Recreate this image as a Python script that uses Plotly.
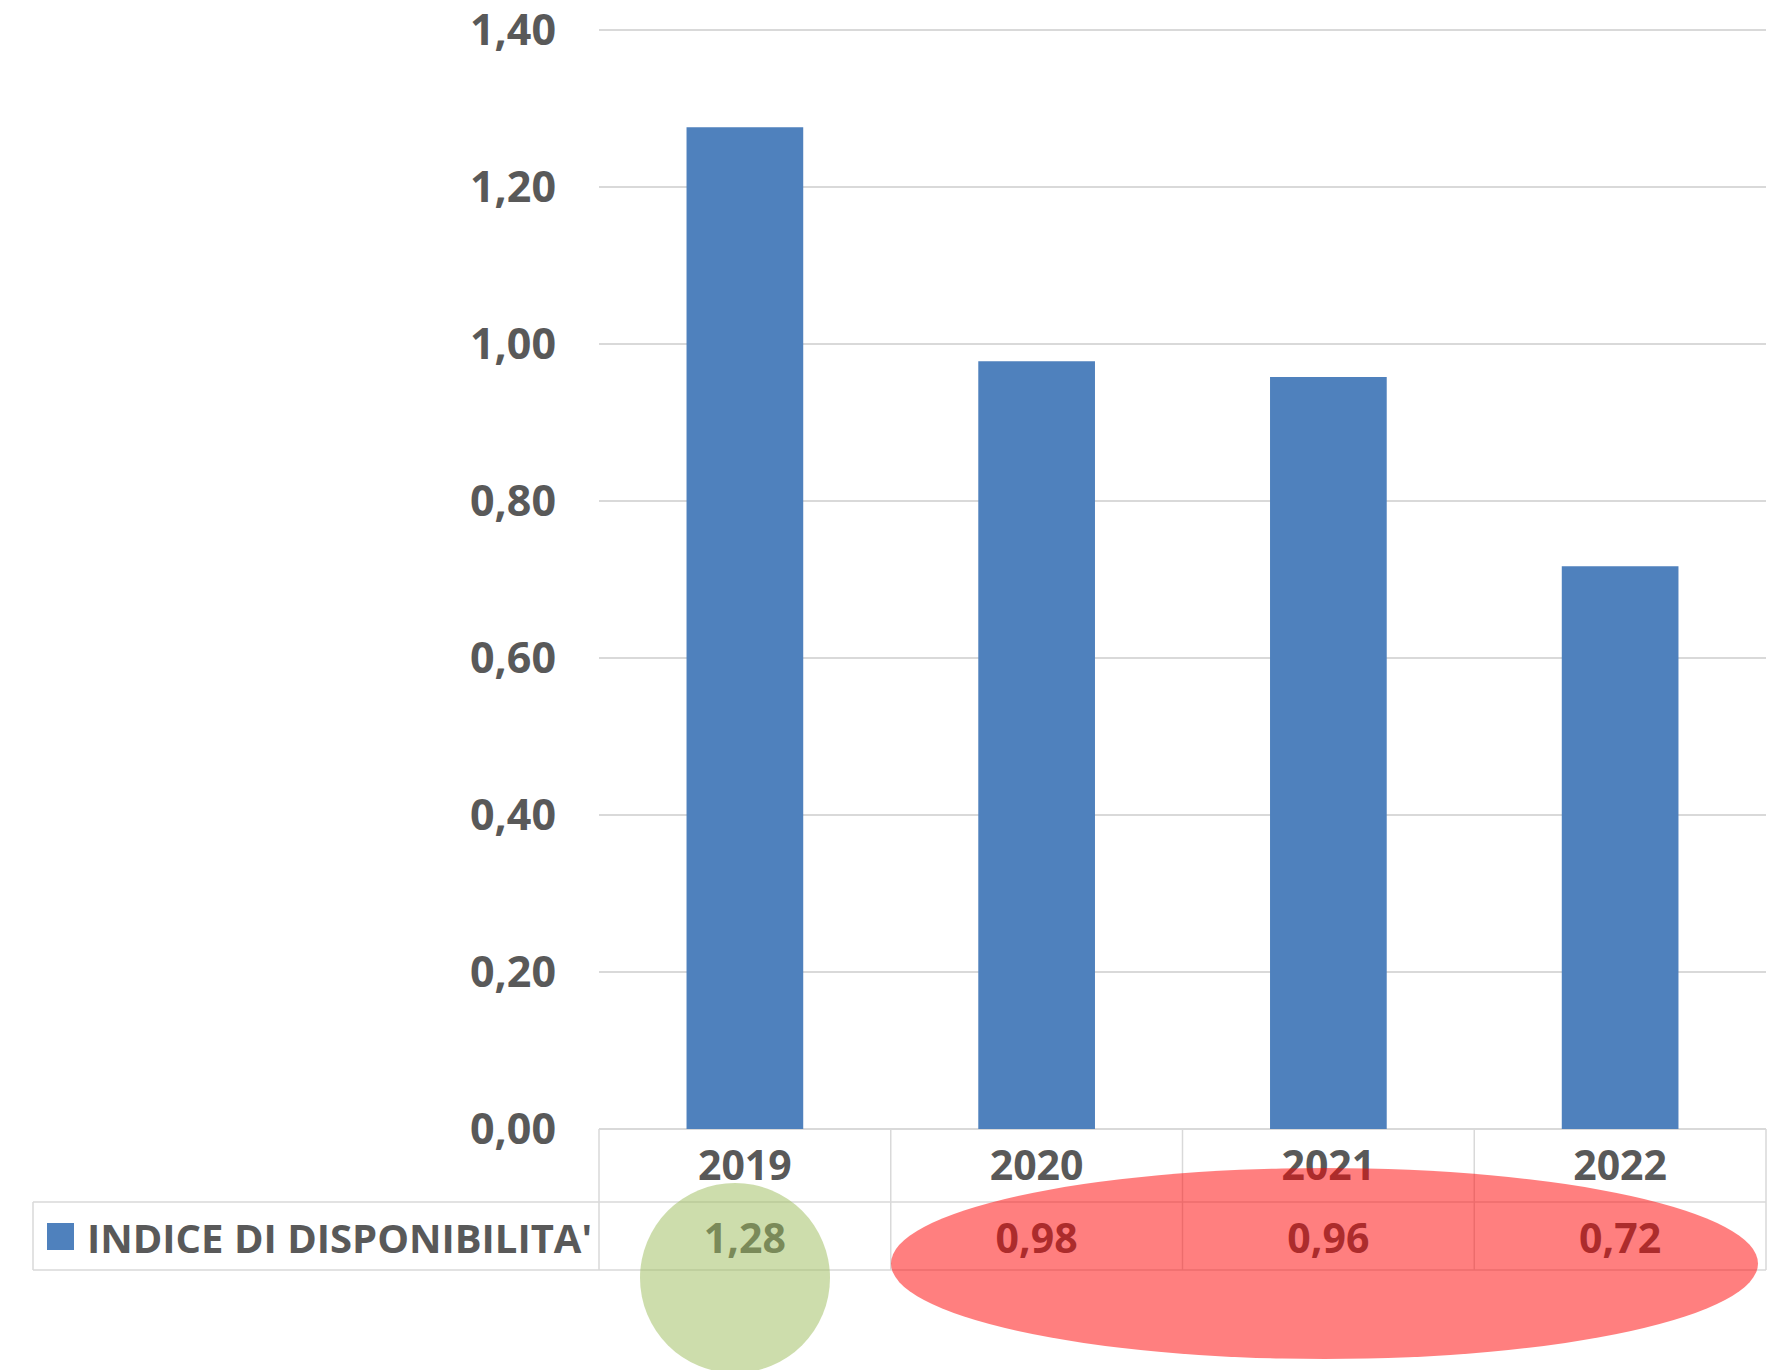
import plotly.graph_objects as go

# ---- data ----
years = ["2019", "2020", "2021", "2022"]
indice = [1.276, 0.978, 0.958, 0.717]
series_name = "INDICE DI DISPONIBILITA'"
y_ticks = [0.0, 0.2, 0.4, 0.6, 0.8, 1.0, 1.2, 1.4]

# ---- styles / layout geometry (window pixels) ----
BAR = "#4F81BD"
GRID = "#D9D9D9"
TXT = "#595959"
FONT = "Open Sans"
W, H = 1775, 1370
PLOT_LEFT, PLOT_RIGHT = 599, 1766
Y_TOP_TICK_PX, Y_ZERO_PX = 30, 1129
YTOP_TICK = 1.4
UNIT = (Y_ZERO_PX - Y_TOP_TICK_PX) / YTOP_TICK     # pixels per data unit
PLOT_TOP = Y_TOP_TICK_PX - 4
YMAX = YTOP_TICK + (Y_TOP_TICK_PX - PLOT_TOP) / UNIT
YMIN = -(H - Y_ZERO_PX) / UNIT

L = PLOT_LEFT
R = W - PLOT_RIGHT
T = PLOT_TOP
B = 0
PW, PH = W - L - R, H - T - B


def px_x(p):
    return (p - PLOT_LEFT) / PW


def px_y(p):
    return (H - p) / PH


def data_y(p):
    return (Y_ZERO_PX - p) / UNIT


def fmt(v):
    return f"{v:.2f}".replace(".", ",")


fig = go.Figure()
fig.add_trace(go.Bar(x=years, y=indice, marker_color=BAR, marker_line_width=0,
                     name=series_name, showlegend=False, hoverinfo="skip"))

# data-table rows as text traces (the highlight ellipses sit on top of them)
tfont = dict(family=FONT, size=41, color=TXT, weight="bold")
fig.add_trace(go.Scatter(x=years, y=[data_y(1170)] * len(years), mode="text",
                         text=years, textposition="middle center",
                         textfont=tfont, showlegend=False, hoverinfo="skip"))
fig.add_trace(go.Scatter(x=years, y=[data_y(1243)] * len(years), mode="text",
                         text=[fmt(v) for v in indice], textposition="middle center",
                         textfont=tfont, showlegend=False, hoverinfo="skip"))

shapes = []
line = dict(color=GRID, width=1.5)
n = len(years)
# horizontal table lines
for yy in (1202, 1270):
    shapes.append(dict(type="line", xref="paper", yref="paper", x0=px_x(33), x1=1,
                       y0=px_y(yy), y1=px_y(yy), line=line, layer="below"))
# vertical table lines
for i in range(n + 1):
    shapes.append(dict(type="line", xref="paper", yref="paper", x0=i / n, x1=i / n,
                       y0=px_y(1270), y1=px_y(Y_ZERO_PX), line=line, layer="below"))
shapes.append(dict(type="line", xref="paper", yref="paper", x0=px_x(33), x1=px_x(33),
                   y0=px_y(1270), y1=px_y(1202), line=line, layer="below"))
# legend swatch
shapes.append(dict(type="rect", xref="paper", yref="paper", x0=px_x(47), x1=px_x(74),
                   y0=px_y(1250), y1=px_y(1223), fillcolor=BAR, line_width=0))
# highlight ellipses
shapes.append(dict(type="circle", xref="paper", yref="paper", x0=px_x(640), x1=px_x(830),
                   y0=px_y(1373), y1=px_y(1183), fillcolor="rgba(155,187,89,0.5)",
                   line_width=0, layer="above"))
shapes.append(dict(type="circle", xref="paper", yref="paper", x0=px_x(891), x1=px_x(1758),
                   y0=px_y(1359), y1=px_y(1168), fillcolor="rgba(255,0,0,0.5)",
                   line_width=0, layer="above"))

annotations = [dict(text=series_name, xref="paper", yref="paper", x=px_x(85), y=px_y(1237),
                    xanchor="left", yanchor="middle", showarrow=False,
                    font=dict(family=FONT, size=40, color=TXT, weight="bold"))]

fig.update_layout(
    width=W, height=H, autosize=False,
    margin=dict(l=L, r=R, t=T, b=B, pad=0),
    paper_bgcolor="white", plot_bgcolor="white",
    bargap=0.6, separators=",.",
    shapes=shapes, annotations=annotations,
    xaxis=dict(type="category", showticklabels=False, showgrid=False, showline=False,
               ticks="", zeroline=False, range=[-0.5, 3.5], automargin=False),
    yaxis=dict(range=[YMIN, YMAX], tickvals=y_ticks, tickformat=".2f", showgrid=True,
               gridcolor=GRID, gridwidth=1.5, zeroline=True, zerolinecolor=GRID,
               zerolinewidth=1.5, showline=False, ticks="", automargin=False,
               ticklabelstandoff=42, ticklabeloverflow="allow",
               tickfont=dict(family=FONT, size=43, color=TXT, weight="bold")),
)

fig.write_html("out.html", config={"displayModeBar": False, "staticPlot": True},
               post_script="document.body.style.margin='0';document.body.style.overflow='hidden';")
